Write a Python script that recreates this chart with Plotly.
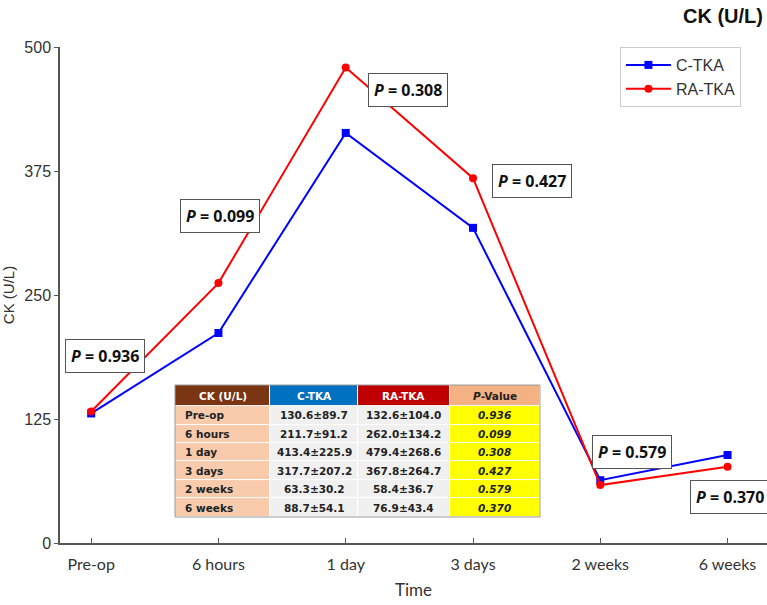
import plotly.graph_objects as go

# ---- data ----
time_points = ["Pre-op", "6 hours", "1 day", "3 days", "2 weeks", "6 weeks"]
c_tka_mean = [130.6, 211.7, 413.4, 317.7, 63.3, 88.7]
c_tka_sd = [89.7, 91.2, 225.9, 207.2, 30.2, 54.1]
ra_tka_mean = [132.6, 262.0, 479.4, 367.8, 58.4, 76.9]
ra_tka_sd = [104.0, 134.2, 268.6, 264.7, 36.7, 43.4]
p_values = ["0.936", "0.099", "0.308", "0.427", "0.579", "0.370"]
table_headers = ["CK (U/L)", "C-TKA", "RA-TKA", "<i>P</i>-Value"]
y_ticks = [0, 125, 250, 375, 500]

# label placement (category index, value units)
p_label_x = [0.11, 1.01, 2.49, 3.46, 4.25, 5.02]
p_label_y = [189, 330, 457, 365, 92, 46]

# table geometry (pixel-like units on its own hidden axes)
col_edges = [0, 95, 183, 275, 365]
header_h = 21
row_h = 18.5

fig = go.Figure()

fig.add_trace(go.Scatter(
    x=list(range(len(time_points))), y=c_tka_mean, name="C-TKA",
    mode="lines+markers",
    line=dict(color="#0000FF", width=2),
    marker=dict(symbol="square", size=8, color="#0000FF"),
))
fig.add_trace(go.Scatter(
    x=list(range(len(time_points))), y=ra_tka_mean, name="RA-TKA",
    mode="lines+markers",
    line=dict(color="#FF0000", width=2),
    marker=dict(symbol="circle", size=8, color="#FF0000"),
))

# ---- summary table as a heatmap on its own axes ----
n = len(time_points)
row_edges = [i * row_h for i in range(n + 1)] + [n * row_h + header_h]  # bottom -> top
# colour codes: 0 brown, 1 blue, 2 red, 3 salmon, 4 peach, 5 grey, 6 yellow
z = [[4, 5, 5, 6] for _ in range(n)] + [[0, 1, 2, 3]]
palette = ["#7B3512", "#0070C0", "#C00000", "#F4B183", "#F8CBAD", "#F0F0F0", "#FFFF00"]
colorscale = []
for i, c in enumerate(palette):
    colorscale.append([i / len(palette), c])
    colorscale.append([(i + 1) / len(palette), c])

fig.add_trace(go.Heatmap(
    x=col_edges, y=row_edges, z=z, zmin=-0.5, zmax=len(palette) - 0.5,
    colorscale=colorscale, showscale=False, hoverinfo="skip",
    xgap=1, ygap=1, xaxis="x2", yaxis="y2",
))

annotations = []
tfont = "DejaVu Sans, Verdana"
col_centers = [(col_edges[i] + col_edges[i + 1]) / 2 for i in range(4)]
header_y = n * row_h + header_h / 2
header_colors = ["white", "white", "white", "#222"]
for cx, h, hc in zip(col_centers, table_headers, header_colors):
    annotations.append(dict(x=cx, y=header_y, xref="x2", yref="y2", showarrow=False,
                            text="<b>%s</b>" % h, font=dict(size=10.5, color=hc, family=tfont)))
for i in range(n):
    ry = (n - 1 - i) * row_h + row_h / 2
    annotations.append(dict(x=col_edges[0] + 8, y=ry, xref="x2", yref="y2", xanchor="left",
                            showarrow=False, text="<b>%s</b>" % time_points[i],
                            font=dict(size=10.5, color="#222", family=tfont)))
    annotations.append(dict(x=col_centers[1], y=ry, xref="x2", yref="y2", showarrow=False,
                            text="<b>%.1f±%.1f</b>" % (c_tka_mean[i], c_tka_sd[i]),
                            font=dict(size=10.5, color="#222", family=tfont)))
    annotations.append(dict(x=col_centers[2], y=ry, xref="x2", yref="y2", showarrow=False,
                            text="<b>%.1f±%.1f</b>" % (ra_tka_mean[i], ra_tka_sd[i]),
                            font=dict(size=10.5, color="#222", family=tfont)))
    annotations.append(dict(x=col_centers[3], y=ry, xref="x2", yref="y2", showarrow=False,
                            text="<b><i>%s</i></b>" % p_values[i],
                            font=dict(size=10.5, color="#222", family=tfont)))

for px, py, p in zip(p_label_x, p_label_y, p_values):
    annotations.append(dict(
        x=px, y=py, xref="x", yref="y", showarrow=False,
        text="<b><i>P</i> = %s</b>" % p,
        font=dict(size=16, color="#111", family="Open Sans, Liberation Sans"),
        bgcolor="white", bordercolor="#555", borderwidth=1, borderpad=5,
    ))
annotations.append(dict(
    x=0.997, y=1.0625, xref="paper", yref="paper", xanchor="right", yanchor="middle",
    showarrow=False, text="<b>CK (U/L)</b>",
    font=dict(size=20, color="#111", family="Liberation Sans, Arial"),
))

shapes = [dict(type="rect", xref="x2 domain", yref="y2 domain", x0=0, x1=1, y0=0, y1=1,
               line=dict(color="#999", width=1), fillcolor="rgba(0,0,0,0)", layer="above")]

fig.update_layout(
    width=767, height=605,
    margin=dict(l=60, r=0, t=47, b=62),
    paper_bgcolor="white", plot_bgcolor="white",
    showlegend=True,
    legend=dict(
        x=0.792, y=1.0, xanchor="left", yanchor="top",
        bgcolor="white", bordercolor="#CCCCCC", borderwidth=1,
        font=dict(size=16, color="#333", family="Liberation Sans, Arial"),
        itemwidth=45,
    ),
    annotations=annotations,
    shapes=shapes,
    xaxis=dict(
        range=[-0.245, 5.31],
        tickmode="array", tickvals=list(range(len(time_points))), ticktext=time_points,
        showgrid=False, zeroline=False,
        showline=True, linecolor="#555", linewidth=1.5,
        ticks="inside", ticklen=5, tickcolor="#555",
        ticklabelstandoff=6,
        tickfont=dict(size=16, color="#333", family="Lato, Open Sans"),
        title=dict(text="Time", font=dict(size=17, color="#333", family="Lato, Open Sans"), standoff=12),
    ),
    yaxis=dict(
        range=[0, 500],
        tickmode="array", tickvals=y_ticks,
        showgrid=False, zeroline=False,
        showline=True, linecolor="#555", linewidth=1.5,
        ticks="outside", ticklen=4, tickcolor="#555",
        tickfont=dict(size=16, color="#333", family="Liberation Sans, Arial"),
        title=dict(text="CK (U/L)", font=dict(size=15, color="#333", family="Liberation Sans, Arial"), standoff=6),
    ),
    xaxis2=dict(domain=[0.1627, 0.6789], range=[col_edges[0], col_edges[-1]], anchor="y2",
                visible=False, fixedrange=True),
    yaxis2=dict(domain=[0.0524, 0.3185], range=[row_edges[0], row_edges[-1]], anchor="x2",
                visible=False, fixedrange=True),
)

fig.write_html("out.html")
